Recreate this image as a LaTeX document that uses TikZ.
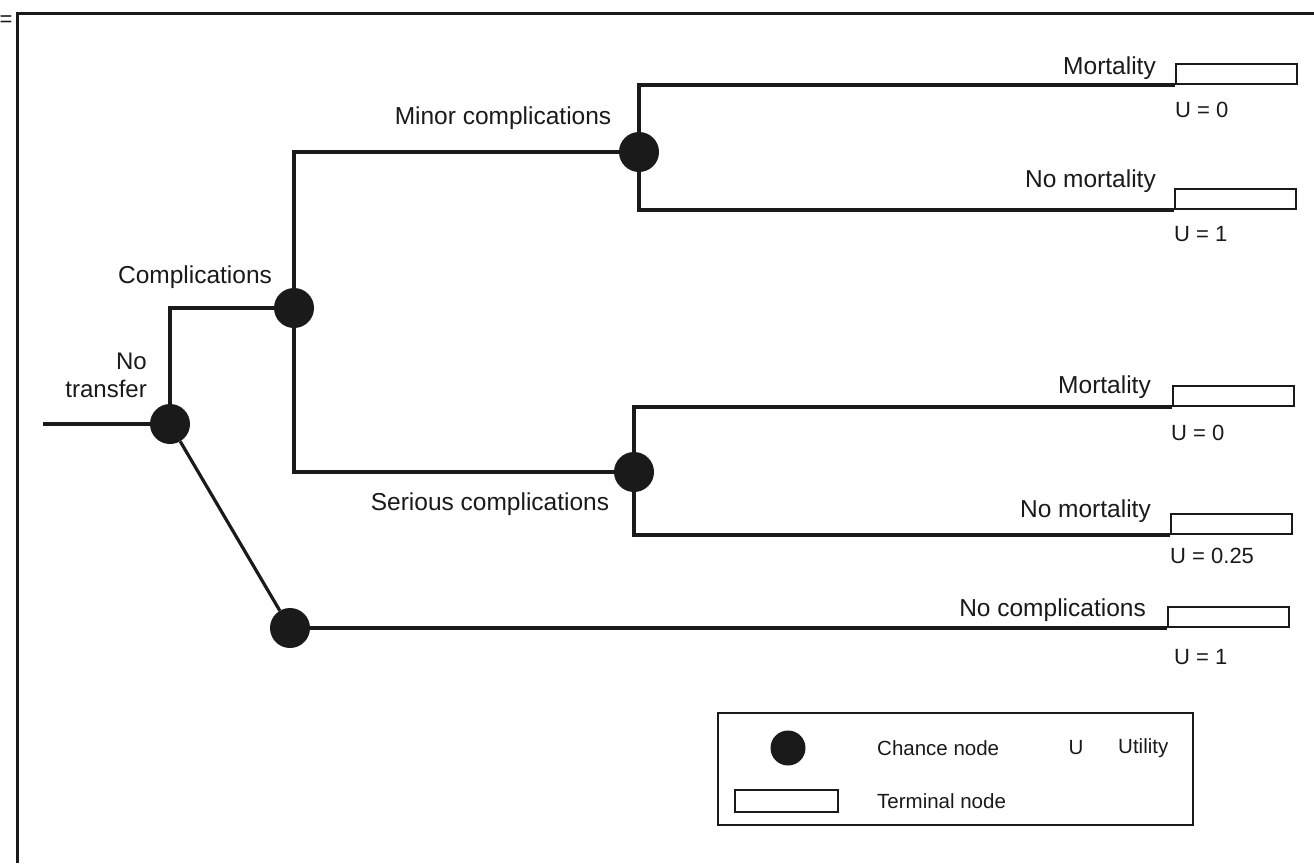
\documentclass[tikz,border=0pt]{standalone}
\usepackage{fontspec}
\setmainfont{Liberation Sans}
\begin{document}
\begin{tikzpicture}[x=1pt,y=-1pt,
  every node/.style={text=ink},
  chance/.style={circle, fill=ink, draw=none, minimum size=40pt, inner sep=0pt},
  term/.style={rectangle, draw=ink, line width=2.4pt, minimum width=121pt, minimum height=20pt, inner sep=0pt, anchor=south west},
  branch/.style={draw=ink, line width=3.2pt},
  lbl/.style={font=\fontsize{24.5}{29}\selectfont, inner sep=0pt},
  ulbl/.style={font=\fontsize{22}{26}\selectfont, inner sep=0pt, anchor=west},
  leg/.style={font=\fontsize{20.5}{24}\selectfont, inner sep=0pt, anchor=west},
  frame/.style={draw=ink, line width=3pt}]
\definecolor{ink}{HTML}{1A1A1A}
\useasboundingbox (0,0) rectangle (1314,863);
\fill[white] (0,0) rectangle (1314,863);
% frame
\draw[frame] (17,863) -- (17,13) -- (1314,13);
\node[font=\fontsize{22}{24}\selectfont, inner sep=0pt] (eq) at (6,21) {=};
% chance nodes
\node[chance] (A) at (170,424) {};
\node[chance] (B) at (294,308) {};
\node[chance] (C) at (639,152) {};
\node[chance] (D) at (634,472) {};
\node[chance] (E) at (290,628) {};
% terminal nodes
\node[term] (T1) at (1175,85) {};
\node[term] (T2) at (1174,210) {};
\node[term] (T3) at (1172,407) {};
\node[term] (T4) at (1170,535) {};
\node[term] (T5) at (1167,628) {};
% connectors
\coordinate (start) at (43,424);
\draw[branch] (start) -- (A);
\draw[branch] (A) |- (B);
\draw[branch] (A) -- (E);
\draw[branch] (B) |- (C);
\draw[branch] (B) |- (D);
\draw[branch] (C) |- (T1.south west);
\draw[branch] (C) |- (T2.south west);
\draw[branch] (D) |- (T3.south west);
\draw[branch] (D) |- (T4.south west);
\draw[branch] (E) -- (T5.south west);
% branch labels
\node[lbl] (lminor) at (503,118) {Minor complications};
\node[lbl] (lcomp) at (195,277) {Complications};
\node[lbl, align=right, anchor=east, font=\fontsize{24}{28}\selectfont] (lnot) at (147,375) {No\\transfer};
\node[lbl] (lser) at (490,504) {Serious complications};
\node[lbl, anchor=east] (lm1) at (1156,68) {Mortality};
\node[lbl, anchor=east] (lnm1) at (1156,181) {No mortality};
\node[lbl, anchor=east] (lm2) at (1151,387) {Mortality};
\node[lbl, anchor=east] (lnm2) at (1151,511) {No mortality};
\node[lbl, anchor=east] (lnc) at (1146,610) {No complications};
% utilities
\node[ulbl] (u1) at (1175,110) {U = 0};
\node[ulbl] (u2) at (1174,234) {U = 1};
\node[ulbl] (u3) at (1171,433) {U = 0};
\node[ulbl] (u4) at (1170,556) {U = 0.25};
\node[ulbl] (u5) at (1174,657) {U = 1};
% legend
\node[draw=ink, line width=2.4pt, minimum width=475pt, minimum height=112pt, inner sep=0pt, anchor=north west] (legend) at (717,712) {};
\node[circle, fill=ink, minimum size=35pt, inner sep=0pt] (legc) at (788,748) {};
\node[leg] (legct) at (877,748) {Chance node};
\node[leg, anchor=center] (legu) at (1076,748) {U};
\node[leg] (legut) at (1118,748) {Utility};
\node[draw=ink, line width=2.4pt, minimum width=103pt, minimum height=22pt, inner sep=0pt] (legt) at (786.5,801) {};
\node[leg] (legtt) at (877,801) {Terminal node};
\end{tikzpicture}
\end{document}
